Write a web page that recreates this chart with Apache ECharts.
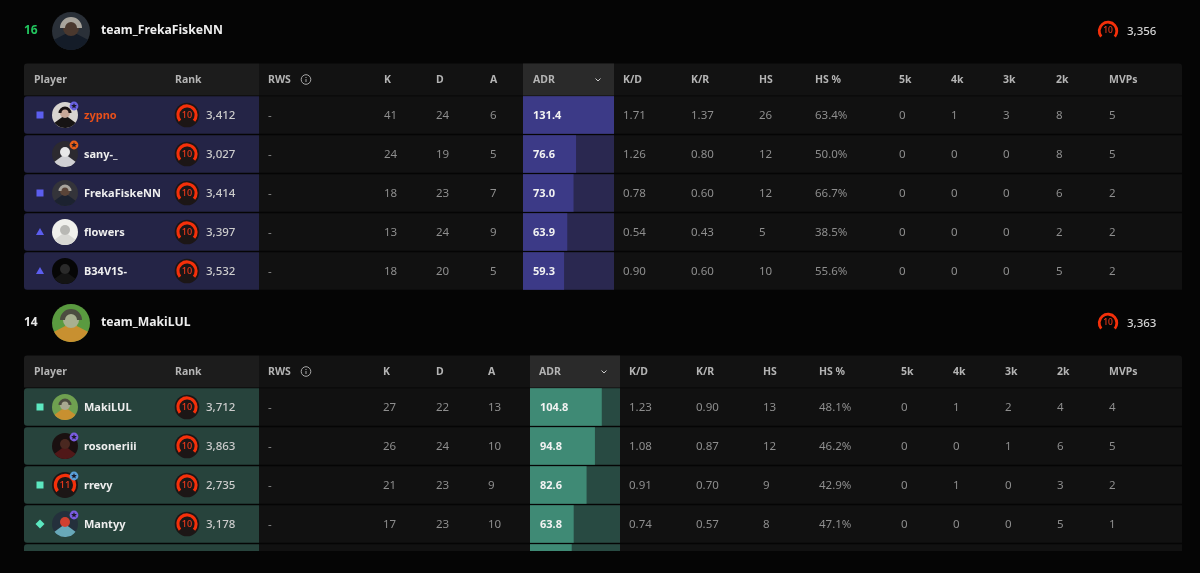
<!DOCTYPE html>
<html>
<head>
<meta charset="utf-8">
<style>html,body{margin:0;padding:0;background:#050505;overflow:hidden}#c{width:1200px;height:600px}</style>
<script src="https://cdn.jsdelivr.net/npm/echarts@6/dist/echarts.min.js"></script>
</head>
<body>
<div id="c"></div>
<script>
// Column titles
const headerLabels = ['RWS', 'K', 'D', 'A', 'ADR', 'K/D', 'K/R', 'HS', 'HS %', '5k', '4k', '3k', '2k', 'MVPs'];

// Team one
const teamNameA = 'team_FrekaFiskeNN';
const teamPlaceA = 16;
const teamEloA = 3356;
const playersA = ['zypno', 'sany-_', 'FrekaFiskeNN', 'flowers', 'B34V1S-'];
const ranksA = [3412, 3027, 3414, 3397, 3532];
const killsA = [41, 24, 18, 13, 18];
const deathsA = [24, 19, 23, 24, 20];
const assistsA = [6, 5, 7, 9, 5];
const adrA = [131.4, 76.6, 73.0, 63.9, 59.3];
const kdA = [1.71, 1.26, 0.78, 0.54, 0.90];
const krA = [1.37, 0.80, 0.60, 0.43, 0.60];
const hsA = [26, 12, 12, 5, 10];
const hsPctA = [63.4, 50.0, 66.7, 38.5, 55.6];
const k5A = [0, 0, 0, 0, 0];
const k4A = [1, 0, 0, 0, 0];
const k3A = [3, 0, 0, 0, 0];
const k2A = [8, 8, 6, 2, 5];
const mvpA = [5, 5, 2, 2, 2];
const partyA = ['square', '', 'square', 'triangle', 'triangle'];

// Team two, the fifth row is cut off by the crop so only its ADR bar shows
const teamNameB = 'team_MakiLUL';
const teamPlaceB = 14;
const teamEloB = 3363;
const playersB = ['MakiLUL', 'rosoneriii', 'rrevy', 'Mantyy', ''];
const ranksB = [3712, 3863, 2735, 3178, null];
const killsB = [27, 26, 21, 17, null];
const deathsB = [22, 24, 23, 23, null];
const assistsB = [13, 10, 9, 10, null];
const adrB = [104.8, 94.8, 82.6, 63.8, 60.9];
const kdB = [1.23, 1.08, 0.91, 0.74, null];
const krB = [0.90, 0.87, 0.70, 0.57, null];
const hsB = [13, 12, 9, 8, null];
const hsPctB = [48.1, 46.2, 42.9, 47.1, null];
const k5B = [0, 0, 0, 0, null];
const k4B = [1, 0, 1, 0, null];
const k3B = [2, 1, 0, 0, null];
const k2B = [4, 6, 3, 5, null];
const mvpB = [4, 5, 2, 1, null];
const partyB = ['square', '', 'square', 'diamond', ''];

const ADR_MAX = 131.4;
const FONT = '"Noto Sans", sans-serif';
const RED = '#f5300a';

// Text x of each column: RWS K D A ADR K/D K/R HS HS% 5k 4k 3k 2k MVPs
const colsA = [268, 384, 436, 490, 533, 623, 691, 759, 815, 899, 951, 1003, 1056, 1109];
const colsB = [268, 383, 436, 488, 539, 629, 696, 763, 819, 901, 953, 1005, 1057, 1109];

const looksA = [
    { bg: '#d8d4d0', head: '#c8a898', hair: '#1a1212', body: '#171414', badge: '#6a62e0' },
    { bg: '#2c2a30', head: '#e8e8e8', body: '#d0d0d4', badge: '#e8601a' },
    { bg: '#34343a', head: '#5a4438', hair: '#a8a49c', body: '#1c2230' },
    { bg: '#f0f0ec', head: '#b8b8b4', body: '#d8d8d4' },
    { bg: '#060606', head: '#2a2a2a', body: '#141414' }
];
const looksB = [
    { bg: '#6fa050', head: '#a8a890', hair: '#4c4c40', body: '#c89030' },
    { bg: '#1a1010', head: '#4a2820', body: '#501818', badge: '#7a5ce0' },
    { level: 11, badge: '#5aa0d8' },
    { bg: '#24303c', head: '#d04030', body: '#68a8b8', badge: '#7a5ce0' },
    null
];

const fmt = n => String(n).replace(/\B(?=(\d{3})+$)/, ',');

function text(str, x, y, fill, size, weight, align) {
    return {
        type: 'text',
        style: { text: str, x, y: y + 1, fill, align: align || 'left', verticalAlign: 'middle',
            font: `${weight || 400} ${size}px ${FONT}` }
    };
}

function rankIcon(cx, cy, r, label, backed) {
    const out = [];
    if (backed) out.push({ type: 'circle', shape: { cx, cy, r: r }, style: { fill: '#1c1616' } });
    out.push({
        type: 'arc',
        shape: { cx, cy, r: r * 0.74, startAngle: Math.PI * 0.78, endAngle: Math.PI * 2.22, clockwise: true },
        style: { stroke: RED, fill: 'none', lineWidth: r * 0.25 }
    });
    out.push(text(label, cx, cy - 1, '#ee3a1c', r * 0.74, 500, 'center'));
    return out;
}

function starPoints(cx, cy, r) {
    const pts = [];
    for (let i = 0; i < 10; i++) {
        const a = -Math.PI / 2 + i * Math.PI / 5;
        const rr = i % 2 ? r * 0.45 : r;
        pts.push([cx + Math.cos(a) * rr, cy + Math.sin(a) * rr]);
    }
    return pts;
}

function avatar(cx, cy, look) {
    if (!look) return [];
    let out;
    if (look.level) {
        out = rankIcon(cx, cy, 13, String(look.level), true);
    } else {
        out = [
            { type: 'circle', shape: { cx, cy, r: 13 }, style: { fill: look.bg } },
            { type: 'sector', shape: { cx, cy, r: 13, r0: 0, startAngle: Math.PI * 0.2, endAngle: Math.PI * 0.8 }, style: { fill: look.body } },
            { type: 'circle', shape: { cx, cy: cy - 2, r: 5 }, style: { fill: look.head } }
        ];
        if (look.hair) {
            out.push({ type: 'sector', shape: { cx, cy: cy - 2, r: 6.5, r0: 3.5, startAngle: Math.PI, endAngle: Math.PI * 2 }, style: { fill: look.hair } });
        }
    }
    if (look.badge) {
        out.push({ type: 'circle', shape: { cx: cx + 9, cy: cy - 9, r: 4.4 }, style: { fill: look.badge } });
        out.push({ type: 'polygon', shape: { points: starPoints(cx + 9, cy - 9, 3) }, style: { fill: '#1a1a2a' } });
    }
    return out;
}

function partyMark(kind, cx, cy, color) {
    if (kind === 'square') return [{ type: 'rect', shape: { x: cx - 3.5, y: cy - 3.5, width: 7, height: 7 }, style: { fill: color } }];
    if (kind === 'triangle') return [{ type: 'polygon', shape: { points: [[cx, cy - 4], [cx + 4, cy + 3], [cx - 4, cy + 3]] }, style: { fill: color } }];
    if (kind === 'diamond') return [{ type: 'polygon', shape: { points: [[cx, cy - 4.5], [cx + 4.5, cy], [cx, cy + 4.5], [cx - 4.5, cy]] }, style: { fill: color } }];
    return [];
}

// One row of the table, placed by the grid's category axis
function rowRenderer(team) {
    return (params, api) => {
        const i = api.value(1);
        const p = api.coord([0, i]);
        const rowH = api.size([0, 1])[1];
        const cy = p[1];
        const top = cy - rowH / 2 + 0.75;
        const h = rowH - 1.5;
        const X = v => api.coord([v, i])[0];
        const kids = [
            { type: 'rect', shape: { x: X(259), y: top, width: X(1182) - X(259), height: h }, style: { fill: '#111111' } },
            { type: 'rect', shape: { x: X(24), y: top, width: X(259) - X(24), height: h, r: [3, 0, 0, 3] }, style: { fill: team.panel } }
        ];
        const name = team.players[i];
        kids.push(...partyMark(team.party[i], X(40), cy, team.mark));
        kids.push(...avatar(X(65), cy, team.looks[i]));
        if (name) {
            const nameColor = name === 'zypno' ? '#e8501a' : '#eeeeee';
            kids.push(text(name, X(84), cy, nameColor, 11, 700));
            kids.push(...rankIcon(X(187), cy, 12.3, '10', true));
            kids.push(text(fmt(team.ranks[i]), X(206), cy, '#cccccc', 11.5, 500));
            const c = team.cols;
            const cells = [
                [0, '-'], [1, team.k[i]], [2, team.d[i]], [3, team.a[i]],
                [5, team.kd[i].toFixed(2)], [6, team.kr[i].toFixed(2)], [7, team.hs[i]],
                [8, team.hsPct[i].toFixed(1) + '%'], [9, team.k5[i]], [10, team.k4[i]],
                [11, team.k3[i]], [12, team.k2[i]], [13, team.mvp[i]]
            ];
            cells.forEach(([col, v]) => kids.push(text(String(v), X(c[col]), cy, '#8e8e8e', 11.5, 400)));
        }
        return { type: 'group', children: kids };
    };
}

const teamA = {
    players: playersA, ranks: ranksA, k: killsA, d: deathsA, a: assistsA, kd: kdA, kr: krA, hs: hsA,
    hsPct: hsPctA, k5: k5A, k4: k4A, k3: k3A, k2: k2A, mvp: mvpA, party: partyA, looks: looksA,
    cols: colsA, panel: '#242446', mark: '#5c5ef0'
};
const teamB = {
    players: playersB, ranks: ranksB, k: killsB, d: deathsB, a: assistsB, kd: kdB, kr: krB, hs: hsB,
    hsPct: hsPctB, k5: k5B, k4: k4B, k3: k3B, k2: k2B, mvp: mvpB, party: partyB, looks: looksB,
    cols: colsB, panel: '#27433c', mark: '#5ce8c0'
};

function tableHeader(team, y, adrLeft, adrRight) {
    const c = team.cols;
    const cy = y + 16;
    const out = [
        { type: 'rect', shape: { x: 259, y, width: 923, height: 32, r: [0, 3, 0, 0] }, style: { fill: '#121212' } },
        { type: 'rect', shape: { x: 24, y, width: 235, height: 32, r: [3, 0, 0, 0] }, style: { fill: '#1c1c1c' } },
        { type: 'rect', shape: { x: adrLeft, y, width: adrRight - adrLeft, height: 32 }, style: { fill: '#2a2a2a' } }
    ];
    const label = (s, x) => out.push({
        type: 'text', x, y: cy + 1,
        style: { text: s, fill: '#b4b4b4', font: `700 10.5px ${FONT}`, align: 'left', verticalAlign: 'middle' }
    });
    label('Player', 34);
    label('Rank', 175);
    headerLabels.forEach((s, i) => label(s, c[i]));
    // RWS info icon
    out.push({ type: 'circle', shape: { cx: 306, cy, r: 4.8 }, style: { fill: 'none', stroke: '#a8a8a8', lineWidth: 1 } });
    out.push({ type: 'rect', shape: { x: 305.5, y: cy - 0.5, width: 1, height: 3 }, style: { fill: '#a8a8a8' } });
    out.push({ type: 'rect', shape: { x: 305.5, y: cy - 2.5, width: 1, height: 1 }, style: { fill: '#a8a8a8' } });
    // sort chevron
    const chevX = adrRight - 16;
    out.push({ type: 'polyline', shape: { points: [[chevX - 2.5, cy - 1], [chevX, cy + 1.5], [chevX + 2.5, cy - 1]] }, style: { stroke: '#cccccc', fill: 'none', lineWidth: 1 } });
    return out;
}

function teamBanner(name, place, placeColor, elo, cy, look) {
    const out = [
        { type: 'text', x: 24, y: cy, style: { text: String(place), fill: placeColor, font: `700 12px ${FONT}`, verticalAlign: 'middle' } },
        { type: 'circle', shape: { cx: 71, cy, r: 19 }, style: { fill: look.bg } },
        { type: 'sector', shape: { cx: 71, cy, r: 19, r0: 0, startAngle: Math.PI * 0.15, endAngle: Math.PI * 0.85 }, style: { fill: look.body } },
        { type: 'circle', shape: { cx: 71, cy: cy - 3, r: 8 }, style: { fill: look.head } },
        { type: 'sector', shape: { cx: 71, cy: cy - 3, r: 11, r0: 6, startAngle: Math.PI, endAngle: Math.PI * 2 }, style: { fill: look.hair } },
        { type: 'text', x: 101, y: cy, style: { text: name, fill: '#eeeeee', font: `700 12.2px ${FONT}`, verticalAlign: 'middle' } },
        { type: 'arc', shape: { cx: 1108, cy, r: 8.8, startAngle: Math.PI * 0.78, endAngle: Math.PI * 2.22, clockwise: true }, style: { stroke: RED, fill: 'none', lineWidth: 2.8 } },
        { type: 'text', x: 1108, y: cy, style: { text: '10', fill: '#ee3a1c', font: `500 8.5px ${FONT}`, align: 'center', verticalAlign: 'middle' } },
        { type: 'text', x: 1127, y: cy + 1, style: { text: fmt(elo), fill: '#d4d4d4', font: `500 11.5px ${FONT}`, verticalAlign: 'middle' } }
    ];
    return out;
}

const chart = echarts.init(document.getElementById('c'));

const rowIdx = list => list.map((_, i) => [0, i]);

chart.setOption({
    backgroundColor: '#050505',
    animation: false,
    grid: [
        { left: 0, width: 1200, top: 95.5, height: 195 },
        { left: 0, width: 1200, top: 387.5, height: 195 },
        { left: 523, width: 91, top: 95.5, height: 195 },
        { left: 530, width: 90, top: 387.5, height: 195 }
    ],
    xAxis: [0, 1, 2, 3].map(g => ({
        type: 'value', gridIndex: g, show: false, min: 0, max: g < 2 ? 1200 : ADR_MAX
    })),
    yAxis: [playersA, playersB, playersA, playersB].map((d, g) => ({
        type: 'category', gridIndex: g, show: false, inverse: true, data: d.map((n, i) => n || 'row' + i)
    })),
    series: [
        { type: 'custom', xAxisIndex: 0, yAxisIndex: 0, z: 1, clip: false, silent: true, renderItem: rowRenderer(teamA), data: rowIdx(playersA) },
        { type: 'custom', xAxisIndex: 1, yAxisIndex: 1, z: 1, clip: false, silent: true, renderItem: rowRenderer(teamB), data: rowIdx(playersB) },
        ...[[adrA, 2, '#3c3a87', '#2a2850'], [adrB, 3, '#3f8a75', '#284a42']].map(([vals, g, color, track]) => ({
            type: 'bar', xAxisIndex: g, yAxisIndex: g, z: 2, silent: true, barWidth: 37.5,
            data: vals, itemStyle: { color },
            showBackground: true, backgroundStyle: { color: track },
            label: {
                show: true, position: 'insideLeft', distance: 10, color: '#f2f2f2', offset: [0, 1],
                fontFamily: FONT, fontSize: 11, fontWeight: 700, formatter: p => p.value.toFixed(1)
            }
        }))
    ],
    graphic: [
        ...teamBanner(teamNameA, teamPlaceA, '#22c55e', teamEloA, 31, { bg: '#2a3038', head: '#4a382e', hair: '#a8a49c', body: '#141c28' }),
        ...teamBanner(teamNameB, teamPlaceB, '#e8e8e8', teamEloB, 323, { bg: '#5a9a40', head: '#a8b090', hair: '#4c4c40', body: '#c89030' }),
        ...tableHeader(teamA, 63.5, 523, 614),
        ...tableHeader(teamB, 355.5, 530, 620),
        // crop edge at the bottom of the page
        { type: 'rect', z: 100, shape: { x: 0, y: 551, width: 1200, height: 49 }, style: { fill: '#050505' } }
    ]
});
</script>
</body>
</html>
